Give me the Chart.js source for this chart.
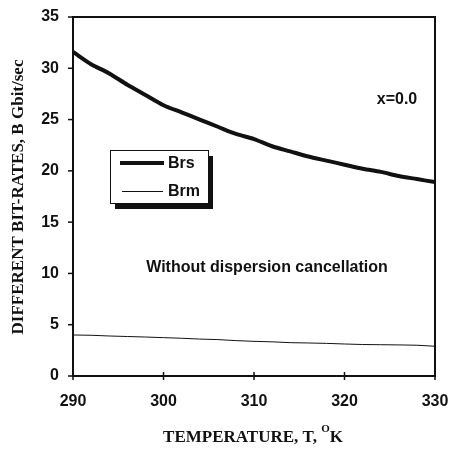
<!DOCTYPE html>
<html>
<head>
<meta charset="utf-8">
<title>Bit-rates vs temperature</title>
<script src="https://cdn.jsdelivr.net/npm/chart.js@4"></script>
<style>
  body { margin: 0; background: #fff; }
  #wrap { width: 454px; height: 450px; }
</style>
</head>
<body>
<div id="wrap"><canvas id="myChart" width="454" height="450"></canvas></div>
<script>
// temperature, K
const temps = [290, 292, 294, 296, 298, 300, 302, 304, 306, 308, 310,
               312, 314, 316, 318, 320, 322, 324, 326, 328, 330];
// Brs bit-rate, Gbit/sec
const brs = [31.6, 30.4, 29.5, 28.4, 27.4, 26.4, 25.7, 25.0, 24.3, 23.6, 23.1,
             22.4, 21.9, 21.4, 21.0, 20.6, 20.2, 19.9, 19.5, 19.2, 18.9];
// Brm bit-rate, Gbit/sec
const brm = [4.0, 3.97, 3.9, 3.85, 3.8, 3.74, 3.68, 3.6, 3.55, 3.45, 3.38,
             3.33, 3.25, 3.22, 3.18, 3.12, 3.07, 3.05, 3.03, 3.0, 2.9];
const xTicks = [290, 300, 310, 320, 330];
const yTicks = [0, 5, 10, 15, 20, 25, 30, 35];

const ink = '#111';
const sans = '"Liberation Sans", Arial, sans-serif';
const serif = '"Liberation Serif", "Times New Roman", serif';

// frame, ticks, axis titles, legend and notes
const decor = {
    id: 'decor',
    afterDraw(chart) {
        const ctx = chart.ctx;
        const a = chart.chartArea;
        const xs = chart.scales.x, ys = chart.scales.y;
        ctx.save();
        ctx.strokeStyle = ink;
        ctx.lineWidth = 2;
        ctx.strokeRect(a.left, a.top, a.right - a.left, a.bottom - a.top);

        ctx.lineWidth = 1.5;
        xTicks.forEach(v => {
            const px = xs.getPixelForValue(v);
            ctx.beginPath();
            ctx.moveTo(px, a.bottom - 4);
            ctx.lineTo(px, a.bottom + 4);
            ctx.stroke();
        });
        yTicks.forEach(v => {
            const py = ys.getPixelForValue(v);
            ctx.beginPath();
            ctx.moveTo(a.left - 5, py);
            ctx.lineTo(a.left, py);
            ctx.stroke();
        });

        ctx.fillStyle = ink;
        // x title with superscript
        ctx.textBaseline = 'alphabetic';
        ctx.textAlign = 'left';
        ctx.font = 'bold 17px ' + serif;
        const t1 = 'TEMPERATURE, T, ';
        const w1 = ctx.measureText(t1).width;
        const wk = ctx.measureText('K').width;
        ctx.font = 'bold 11px ' + serif;
        const wo = ctx.measureText('O').width;
        const sx = 253 - (w1 + wo + wk) / 2;
        ctx.fillText('O', sx + w1, 432);
        ctx.font = 'bold 17px ' + serif;
        ctx.fillText(t1, sx, 442);
        ctx.fillText('K', sx + w1 + wo, 442);

        // y title
        ctx.save();
        ctx.translate(19, 197);
        ctx.rotate(-Math.PI / 2);
        ctx.textAlign = 'center';
        ctx.textBaseline = 'middle';
        ctx.font = 'bold 17px ' + serif;
        ctx.fillText('DIFFERENT BIT-RATES, B Gbit/sec', 0, 0);
        ctx.restore();

        // legend box with shadow
        const lx = 110, ly = 150, lw = 98, lh = 53;
        ctx.fillStyle = ink;
        ctx.fillRect(lx + 5, ly + 6, lw, lh);
        ctx.fillStyle = '#fff';
        ctx.fillRect(lx, ly, lw, lh);
        ctx.lineWidth = 1;
        ctx.strokeStyle = ink;
        ctx.strokeRect(lx + 0.5, ly + 0.5, lw, lh);
        ctx.lineWidth = 4;
        ctx.beginPath();
        ctx.moveTo(120, 163); ctx.lineTo(164, 163); ctx.stroke();
        ctx.lineWidth = 1;
        ctx.beginPath();
        ctx.moveTo(122, 191.5); ctx.lineTo(163, 191.5); ctx.stroke();
        ctx.fillStyle = ink;
        ctx.font = 'bold 16px ' + sans;
        ctx.textAlign = 'left';
        ctx.textBaseline = 'middle';
        ctx.fillText('Brs', 168, 164);
        ctx.fillText('Brm', 168, 192);

        // notes
        ctx.font = 'bold 16px ' + sans;
        ctx.textAlign = 'center';
        ctx.fillText('x=0.0', 397, 100);
        ctx.fillText('Without dispersion cancellation', 267, 268);
        ctx.restore();
    }
};

const tickFont = { family: sans, size: 16, weight: 'bold' };

const ctx = document.getElementById('myChart').getContext('2d');
const chart = new Chart(ctx, {
    type: 'line',
    data: {
        datasets: [{
            label: 'Brs',
            data: temps.map((t, i) => ({ x: t, y: brs[i] })),
            borderColor: ink,
            borderWidth: 4,
            pointRadius: 0,
            tension: 0.3
        }, {
            label: 'Brm',
            data: temps.map((t, i) => ({ x: t, y: brm[i] })),
            borderColor: ink,
            borderWidth: 1,
            pointRadius: 0,
            tension: 0
        }]
    },
    options: {
        responsive: false,
        animation: false,
        layout: { padding: { left: 0, right: 19, top: 17, bottom: 0 } },
        plugins: { legend: { display: false }, tooltip: { enabled: false } },
        scales: {
            x: {
                type: 'linear',
                min: 290, max: 330,
                afterBuildTicks: s => { s.ticks = xTicks.map(v => ({ value: v })); },
                afterFit: s => { s.height = 74; s.paddingLeft = 0; s.paddingRight = 0; },
                grid: { display: false },
                border: { display: false },
                ticks: { color: ink, font: tickFont, padding: 8, maxRotation: 0 }
            },
            y: {
                min: 0, max: 35,
                afterBuildTicks: s => { s.ticks = yTicks.map(v => ({ value: v })); },
                afterFit: s => { s.width = 73; s.paddingTop = 0; s.paddingBottom = 0; },
                grid: { display: false },
                border: { display: false },
                ticks: { color: ink, font: tickFont, padding: 6 }
            }
        }
    },
    plugins: [decor]
});
</script>
</body>
</html>
